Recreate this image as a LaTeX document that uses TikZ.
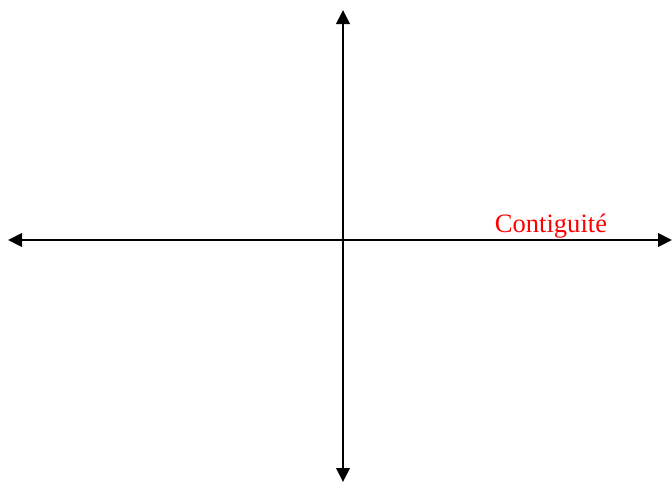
\documentclass[tikz,border=0pt]{standalone}
\usepackage{fontspec}
\setmainfont{Liberation Serif}
\usetikzlibrary{
    arrows.meta,
    positioning
}
\definecolor{axisred}{RGB}{255,0,0}

\begin{document}
\begin{tikzpicture}[
        x=0.75pt,
        y=-0.75pt,
        axis/.style={
            {Triangle[length=10.5pt,width=10pt]}-{Triangle[length=10.5pt,width=10pt]},
            line width=2.1pt,
            draw=black
        },
        label/.style={
            text=axisred,
            font=\fontsize{19.9}{24}\selectfont,
            inner sep=0pt
        }
    ]

    \useasboundingbox (0,0) rectangle (672,482);

    \coordinate (left) at (8,240);
    \coordinate (right) at (672,240);
    \coordinate (top) at (343,10);
    \coordinate (bottom) at (343,482);

    \node[label, anchor=base] (contig) at (551,232) {Contiguité};

    \draw[axis] (left) -- (right);
    \draw[axis] (top) -- (bottom);

\end{tikzpicture}
\end{document}
